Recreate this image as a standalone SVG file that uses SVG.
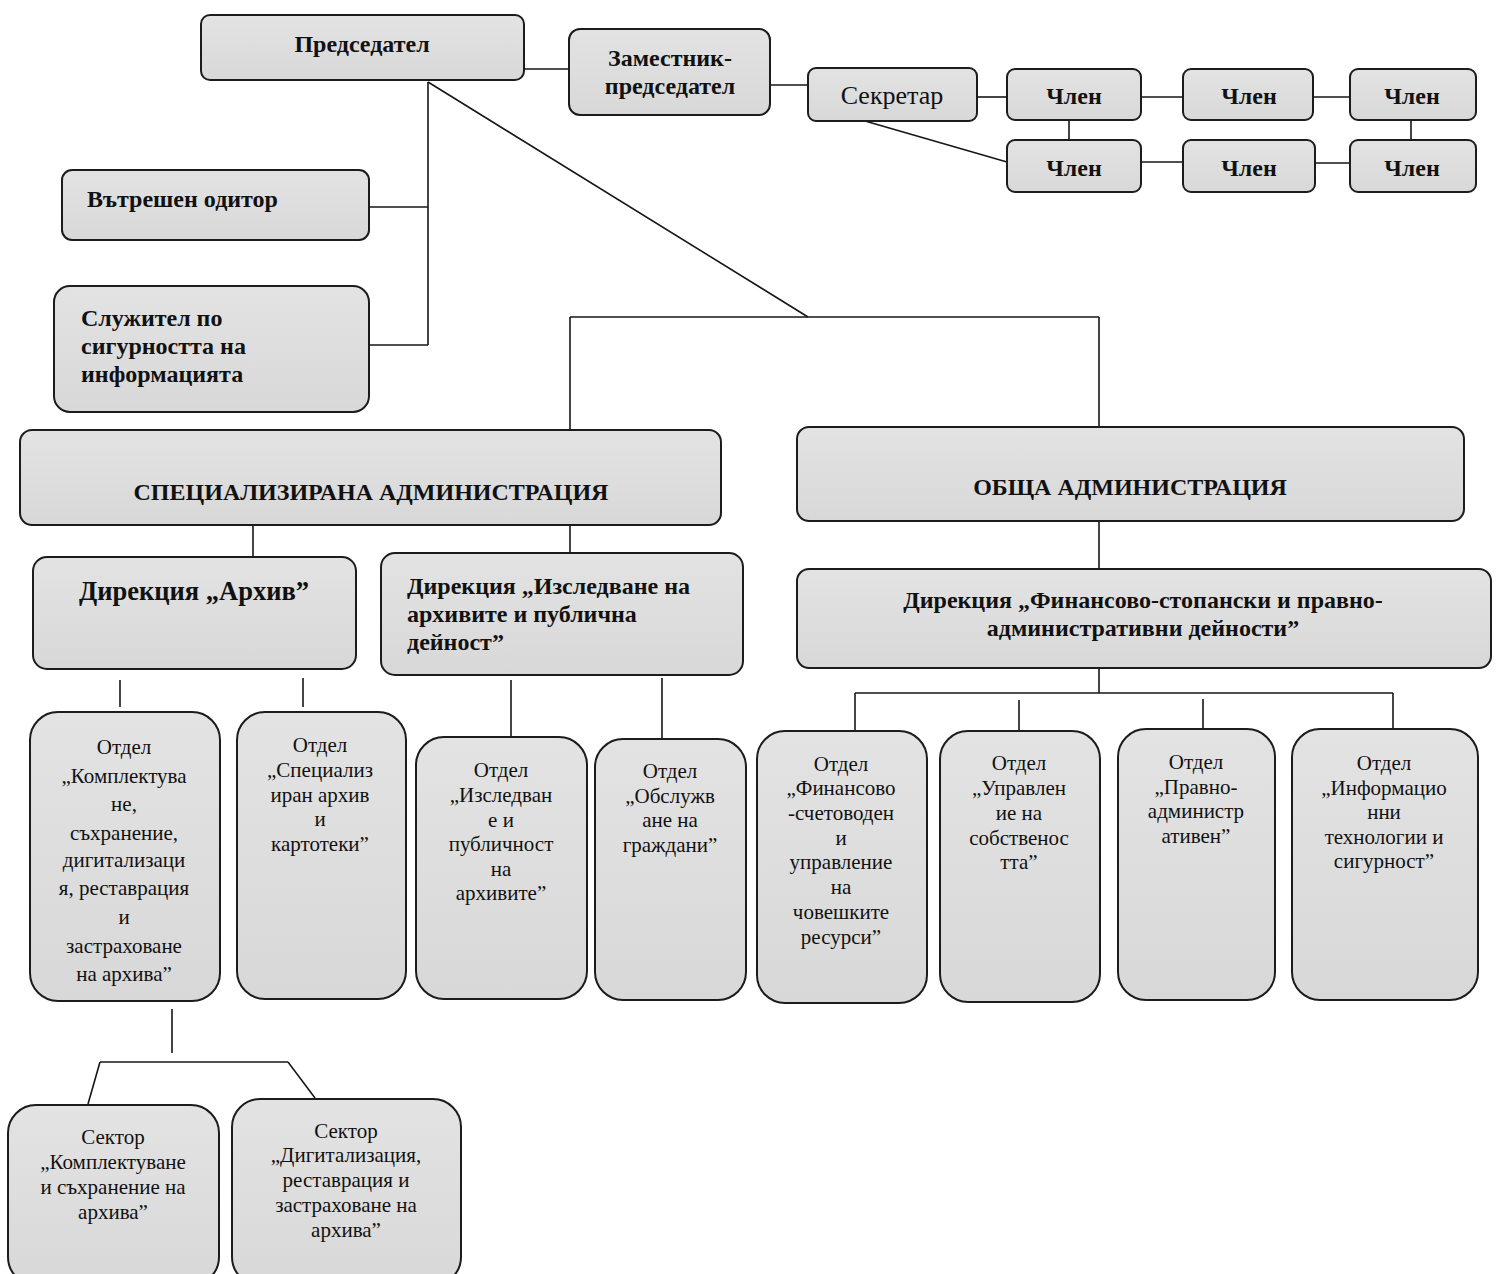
<svg xmlns="http://www.w3.org/2000/svg" width="1499" height="1274" viewBox="0 0 1499 1274">
<defs>
<linearGradient id="g" x1="0" y1="0" x2="0" y2="1">
<stop offset="0" stop-color="#e3e3e3"/>
<stop offset="1" stop-color="#d8d8d8"/>
</linearGradient>
</defs>
<style>
.box{fill:url(#g);stroke:#1c1c1c;stroke-width:2}
.c{fill:none;stroke:#161616;stroke-width:1.6}
text{font-family:"Liberation Serif","Times New Roman",serif;fill:#111}
.b{font-weight:bold;font-size:24px}
.big{font-size:26.5px}
.m{text-anchor:middle}
.r{font-size:21px;text-anchor:middle}
.s{font-size:26px;text-anchor:middle}
</style>
<rect width="1499" height="1274" fill="#ffffff"/>
<g id="connectors">
<path class="c" d="M524 69H569"/>
<path class="c" d="M770 85H808"/>
<path class="c" d="M977 97H1007"/>
<path class="c" d="M1141 97H1183"/>
<path class="c" d="M1313 97H1350"/>
<path class="c" d="M1069 120V140"/>
<path class="c" d="M1411 120V140"/>
<path class="c" d="M1141 162H1183"/>
<path class="c" d="M1315 163H1350"/>
<path class="c" d="M865 121L1007 162"/>
<path class="c" d="M428 82V345"/>
<path class="c" d="M370 207H428"/>
<path class="c" d="M370 345H428"/>
<path class="c" d="M428 82L808 317"/>
<path class="c" d="M570 317H1099"/>
<path class="c" d="M570 317V430"/>
<path class="c" d="M1099 317V427"/>
<path class="c" d="M253 525V557"/>
<path class="c" d="M570 525V553"/>
<path class="c" d="M1099 521V569"/>
<path class="c" d="M1099 668V693"/>
<path class="c" d="M855 693H1393"/>
<path class="c" d="M855 693V731"/>
<path class="c" d="M1019 700V731"/>
<path class="c" d="M1203 699V729"/>
<path class="c" d="M1393 693V729"/>
<path class="c" d="M120 680V707"/>
<path class="c" d="M303 678V707"/>
<path class="c" d="M511 680V737"/>
<path class="c" d="M662 678V739"/>
<path class="c" d="M172 1009V1053"/>
<path class="c" d="M100 1062H288"/>
<path class="c" d="M100 1062L88 1104"/>
<path class="c" d="M288 1062L315 1098"/>
</g>
<g id="n-predsedatel"><rect class="box" x="201" y="15" width="323" height="65" rx="9"/><text class="b m" x="362" y="52">Председател</text></g>
<g id="n-zamestnik"><rect class="box" x="569" y="29" width="201" height="86" rx="11"/><text class="b m" x="670" y="66">Заместник-</text><text class="b m" x="670" y="94">председател</text></g>
<g id="n-sekretar"><rect class="box" x="808" y="68" width="169" height="53" rx="8"/><text class="s" x="892" y="104">Секретар</text></g>
<g id="n-chlen1"><rect class="box" x="1007" y="69" width="134" height="51" rx="8"/><text class="b m" x="1074" y="104">Член</text></g>
<g id="n-chlen2"><rect class="box" x="1183" y="69" width="130" height="51" rx="8"/><text class="b m" x="1249" y="104">Член</text></g>
<g id="n-chlen3"><rect class="box" x="1350" y="69" width="126" height="51" rx="8"/><text class="b m" x="1412" y="104">Член</text></g>
<g id="n-chlen4"><rect class="box" x="1007" y="140" width="134" height="52" rx="8"/><text class="b m" x="1074" y="176">Член</text></g>
<g id="n-chlen5"><rect class="box" x="1183" y="140" width="132" height="52" rx="8"/><text class="b m" x="1249" y="176">Член</text></g>
<g id="n-chlen6"><rect class="box" x="1350" y="140" width="126" height="52" rx="8"/><text class="b m" x="1412" y="176">Член</text></g>
<g id="n-oditor"><rect class="box" x="62" y="170" width="307" height="70" rx="10"/><text class="b" x="87" y="207">Вътрешен одитор</text></g>
<g id="n-sluzhitel"><rect class="box" x="54" y="286" width="315" height="126" rx="16"/><text class="b" x="81" y="326">Служител по</text><text class="b" x="81" y="354">сигурността на</text><text class="b" x="81" y="382">информацията</text></g>
<g id="n-spec"><rect class="box" x="20" y="430" width="701" height="95" rx="12"/><text class="b m" x="371" y="500">СПЕЦИАЛИЗИРАНА АДМИНИСТРАЦИЯ</text></g>
<g id="n-obshta"><rect class="box" x="797" y="427" width="667" height="94" rx="12"/><text class="b m" x="1130" y="495">ОБЩА АДМИНИСТРАЦИЯ</text></g>
<g id="n-dir-arhiv"><rect class="box" x="33" y="557" width="323" height="112" rx="14"/><text class="b m big" x="194" y="600">Дирекция „Архив”</text></g>
<g id="n-dir-izsl"><rect class="box" x="381" y="553" width="362" height="122" rx="14"/><text class="b" x="407" y="594">Дирекция „Изследване на</text><text class="b" x="407" y="622">архивите и публична</text><text class="b" x="407" y="650">дейност”</text></g>
<g id="n-dir-fin"><rect class="box" x="797" y="569" width="694" height="99" rx="12"/><text class="b m" x="1143" y="608">Дирекция „Финансово-стопански и правно-</text><text class="b m" x="1143" y="636">административни дейности”</text></g>
<g id="n-otdel-kompl"><rect class="box" x="30" y="712" width="190" height="289" rx="28"/>
<text class="r" x="124" y="754">Отдел</text><text class="r" x="124" y="783">„Комплектува</text><text class="r" x="124" y="811">не,</text><text class="r" x="124" y="840">съхранение,</text><text class="r" x="124" y="867">дигитализаци</text><text class="r" x="124" y="895">я, реставрация</text><text class="r" x="124" y="924">и</text><text class="r" x="124" y="953">застраховане</text><text class="r" x="124" y="981">на архива”</text></g>
<g id="n-otdel-spec"><rect class="box" x="237" y="712" width="169" height="287" rx="28"/>
<text class="r" x="320" y="752">Отдел</text><text class="r" x="320" y="777">„Специализ</text><text class="r" x="320" y="802">иран архив</text><text class="r" x="320" y="826">и</text><text class="r" x="320" y="851">картотеки”</text></g>
<g id="n-otdel-izsl"><rect class="box" x="416" y="737" width="171" height="262" rx="28"/>
<text class="r" x="501" y="777">Отдел</text><text class="r" x="501" y="802">„Изследван</text><text class="r" x="501" y="827">е и</text><text class="r" x="501" y="851">публичност</text><text class="r" x="501" y="876">на</text><text class="r" x="501" y="900">архивите”</text></g>
<g id="n-otdel-obsl"><rect class="box" x="595" y="739" width="151" height="261" rx="28"/>
<text class="r" x="670" y="778">Отдел</text><text class="r" x="670" y="803">„Обслужв</text><text class="r" x="670" y="827">ане на</text><text class="r" x="670" y="852">граждани”</text></g>
<g id="n-otdel-fin"><rect class="box" x="757" y="731" width="170" height="272" rx="28"/>
<text class="r" x="841" y="771">Отдел</text><text class="r" x="841" y="795">„Финансово</text><text class="r" x="841" y="820">-счетоводен</text><text class="r" x="841" y="845">и</text><text class="r" x="841" y="869">управление</text><text class="r" x="841" y="894">на</text><text class="r" x="841" y="919">човешките</text><text class="r" x="841" y="944">ресурси”</text></g>
<g id="n-otdel-upr"><rect class="box" x="940" y="731" width="160" height="271" rx="28"/>
<text class="r" x="1019" y="770">Отдел</text><text class="r" x="1019" y="795">„Управлен</text><text class="r" x="1019" y="820">ие на</text><text class="r" x="1019" y="845">собственос</text><text class="r" x="1019" y="869">тта”</text></g>
<g id="n-otdel-pravno"><rect class="box" x="1118" y="729" width="157" height="271" rx="28"/>
<text class="r" x="1196" y="769">Отдел</text><text class="r" x="1196" y="794">„Правно-</text><text class="r" x="1196" y="818">администр</text><text class="r" x="1196" y="843">ативен”</text></g>
<g id="n-otdel-it"><rect class="box" x="1292" y="729" width="186" height="271" rx="28"/>
<text class="r" x="1384" y="770">Отдел</text><text class="r" x="1384" y="795">„Информацио</text><text class="r" x="1384" y="819">нни</text><text class="r" x="1384" y="844">технологии и</text><text class="r" x="1384" y="868">сигурност”</text></g>
<g id="n-sektor-kompl"><rect class="box" x="8" y="1105" width="211" height="180" rx="28"/>
<text class="r" x="113" y="1144">Сектор</text><text class="r" x="113" y="1169">„Комплектуване</text><text class="r" x="113" y="1194">и съхранение на</text><text class="r" x="113" y="1219">архива”</text></g>
<g id="n-sektor-dig"><rect class="box" x="232" y="1099" width="229" height="186" rx="28"/>
<text class="r" x="346" y="1138">Сектор</text><text class="r" x="346" y="1162">„Дигитализация,</text><text class="r" x="346" y="1187">реставрация и</text><text class="r" x="346" y="1212">застраховане на</text><text class="r" x="346" y="1237">архива”</text></g>
</svg>
